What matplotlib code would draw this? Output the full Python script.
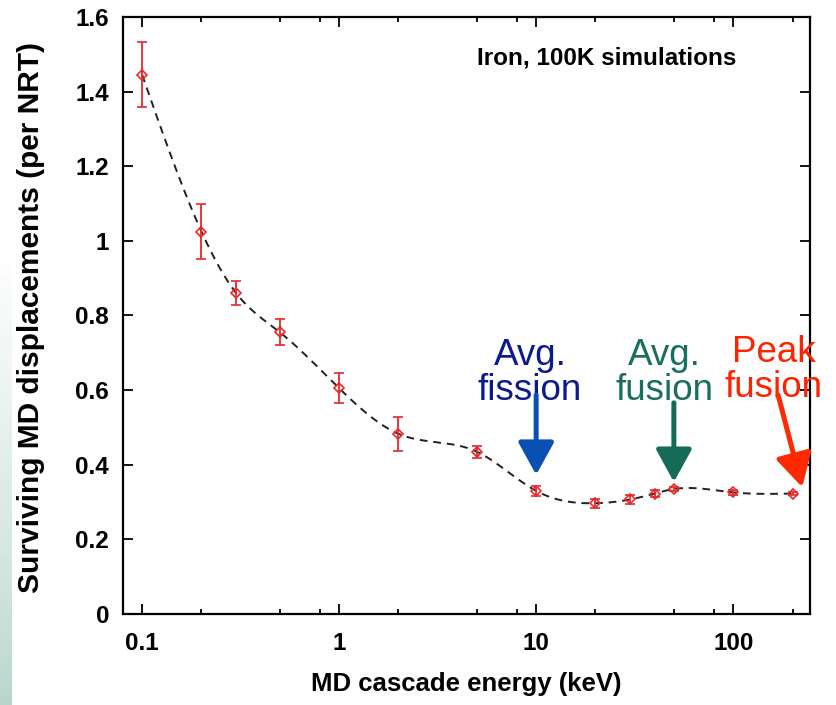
import numpy as np
import matplotlib
matplotlib.use('Agg')
import matplotlib.pyplot as plt
from matplotlib.ticker import FixedLocator, FuncFormatter

plt.rcParams['font.family'] = ['Liberation Sans', 'DejaVu Sans']

# data
energy = [0.1, 0.2, 0.3, 0.5, 1, 2, 5, 10, 20, 30, 40, 50, 100, 200]   # keV
displ = [1.445, 1.025, 0.860, 0.755, 0.605, 0.483, 0.435, 0.330, 0.297, 0.307, 0.323, 0.335, 0.326, 0.323]
err = [0.087, 0.073, 0.033, 0.035, 0.040, 0.045, 0.016, 0.013, 0.012, 0.013, 0.010, 0.006, 0.006, 0.003]

x_ticks = [0.1, 1, 10, 100]
y_ticks = [0, 0.2, 0.4, 0.6, 0.8, 1.0, 1.2, 1.4, 1.6]


# natural cubic spline through the points in log-x (like gnuplot csplines)
def natural_spline(x, y, xs):
    x = np.asarray(x, float)
    y = np.asarray(y, float)
    n = len(x)
    h = np.diff(x)
    A = np.zeros((n, n))
    b = np.zeros(n)
    A[0, 0] = 1
    A[-1, -1] = 1
    for i in range(1, n - 1):
        A[i, i - 1] = h[i - 1]
        A[i, i] = 2 * (h[i - 1] + h[i])
        A[i, i + 1] = h[i]
        b[i] = 6 * ((y[i + 1] - y[i]) / h[i] - (y[i] - y[i - 1]) / h[i - 1])
    M = np.linalg.solve(A, b)
    idx = np.clip(np.searchsorted(x, xs) - 1, 0, n - 2)
    x0, x1 = x[idx], x[idx + 1]
    hh = x1 - x0
    t0 = x1 - xs
    t1 = xs - x0
    return (M[idx] * t0**3 / (6 * hh) + M[idx + 1] * t1**3 / (6 * hh)
            + (y[idx] / hh - M[idx] * hh / 6) * t0
            + (y[idx + 1] / hh - M[idx + 1] * hh / 6) * t1)


lx = np.log10(energy)
xs = np.linspace(lx[0], lx[-1], 600)
ys = natural_spline(lx, displ, xs)

fig = plt.figure(figsize=(8.37, 7.05), dpi=100)
ax = fig.add_axes([0.147, 0.129, 0.821, 0.847])

# faint teal strip at the left edge (slide background)
strip = fig.add_axes([0, 0, 0.014, 0.65])
grad = np.linspace(0, 1, 100).reshape(-1, 1) ** 0.8
strip.imshow(grad, aspect='auto', cmap=matplotlib.colors.LinearSegmentedColormap.from_list(
    'tl', ['#b6d6cc', '#ffffff']), origin='lower', extent=[0, 1, 0, 1])
strip.axis('off')

ax.plot(10**xs, ys, color='#222222', lw=1.4, dashes=(4, 3), zorder=3)
ax.errorbar(energy, displ, yerr=err, fmt='D', ms=5, mfc='none', mec='#e8282a',
            mew=1.2, ecolor='#e8282a', elinewidth=1.3, capsize=3.5, capthick=1.3, zorder=4)

ax.set_xscale('log')
ax.set_xlim(0.08, 246)
ax.set_ylim(0, 1.6)

ax.xaxis.set_major_locator(FixedLocator(x_ticks))
minor = [m * d for d in [0.1, 1, 10, 100] for m in (2, 5, 8)]
ax.xaxis.set_minor_locator(FixedLocator(minor))
ax.xaxis.set_minor_formatter(FuncFormatter(lambda v, p: ''))
ax.xaxis.set_major_formatter(FuncFormatter(lambda v, p: '%g' % v))
ax.yaxis.set_major_locator(FixedLocator(y_ticks))
ax.yaxis.set_major_formatter(FuncFormatter(lambda v, p: '%g' % v))

ax.tick_params(which='both', direction='in', top=True, right=True, width=1.3)
ax.tick_params(which='major', length=7)
ax.tick_params(which='minor', length=3.5)
ax.tick_params(axis='x', pad=13, labelsize=17.5)
ax.tick_params(axis='y', pad=10, labelsize=17.5)
for lab in ax.get_xticklabels() + ax.get_yticklabels():
    lab.set_fontweight('bold')
for sp in ax.spines.values():
    sp.set_linewidth(1.6)

fig.text(0.557, 0.030, 'MD cascade energy (keV)', ha='center', va='center',
         fontsize=18.5, fontweight='bold')
fig.text(0.037, 0.549, 'Surviving MD displacements (per NRT)', ha='center', va='center',
         rotation=90, fontsize=21.5, fontweight='bold')
fig.text(0.570, 0.908, 'Iron, 100K simulations', ha='left', va='baseline',
         fontsize=17.5, fontweight='bold')

# labelled arrows
notes = [
    ('Avg.\nfission', 9.3, 0.646, '#0b1a8e', (10, 0.373), (10, 0.587), '#0a50b4'),
    ('Avg.\nfusion', 44.6, 0.646, '#1a6e5e', (50, 0.354), (50, 0.566), '#166b58'),
    ('Peak\nfusion', 161, 0.654, '#ff2200', (224, 0.340), (169, 0.587), '#ff2a00'),
]
for txt, tx, ty, tc, tip, start, ac in notes:
    ax.text(tx, ty, txt, ha='center', va='center', fontsize=26.5, color=tc,
            linespacing=1.0, zorder=5, clip_on=False)
    ax.annotate('', xy=tip, xytext=start,
                arrowprops=dict(arrowstyle='-|>,head_length=1.0,head_width=0.55',
                                mutation_scale=20, lw=3.6, color=ac,
                                shrinkA=0, shrinkB=0), zorder=6, annotation_clip=False)

fig.savefig('out.png', dpi=100)
